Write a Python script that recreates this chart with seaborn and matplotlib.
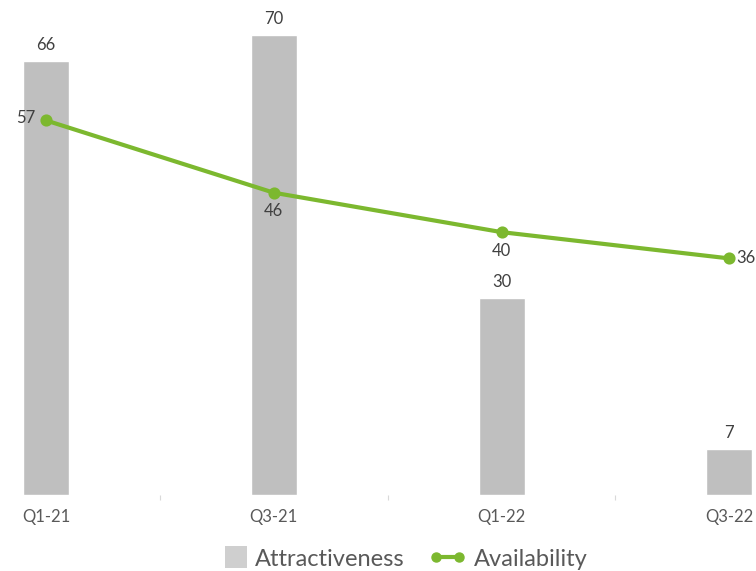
import matplotlib
matplotlib.use("Agg")
import matplotlib.pyplot as plt
import seaborn as sns
import pandas as pd
from matplotlib.patches import Rectangle
from matplotlib.lines import Line2D
from matplotlib.legend_handler import HandlerPatch

# Series values per survey wave
quarters = ["Q1-21", "Q3-21", "Q1-22", "Q3-22"]
attractiveness = [66, 70, 30, 7]
availability = [57, 46, 40, 36]

BAR_COLOR = "#BFBFBF"
LINE_COLOR = "#7CB82F"
LABEL_COLOR = "#404040"
AXIS_TEXT = "#595959"

sns.set_theme(style="white")
plt.rcParams["font.family"] = ["Lato", "DejaVu Sans"]

W, H = 756, 571
fig = plt.figure(figsize=(W / 100, H / 100), dpi=100)
ax = fig.add_axes([0, 76 / H, 1, 460 / H])

df = pd.DataFrame({
    "quarter": quarters,
    "Attractiveness": attractiveness,
    "Availability": availability,
})

sns.barplot(data=df, x="quarter", y="Attractiveness", color=BAR_COLOR,
            width=0.202, saturation=1, ax=ax)
sns.pointplot(data=df, x="quarter", y="Availability", color=LINE_COLOR,
              markers="o", linestyles="-", markersize=6.5, linewidth=3,
              errorbar=None, ax=ax)

ax.set_xlim(-0.202, 3.117)
ax.set_ylim(0, 70)

# value labels above the bars
for i, v in enumerate(attractiveness):
    ax.annotate(str(v), (i, v), xytext=(0, 11.5), textcoords="offset points",
                ha="center", va="center", fontsize=12, color=LABEL_COLOR,
                annotation_clip=False)

# value labels around the line points
line_offsets = [((-7.5, 1.5), "right"), ((0, -13.5), "center"),
                ((0, -13.5), "center"), ((5, 0), "left")]
for i, (v, (off, ha)) in enumerate(zip(availability, line_offsets)):
    ax.annotate(str(v), (i, v), xytext=off, textcoords="offset points",
                ha=ha, va="center", fontsize=12, color=LABEL_COLOR,
                annotation_clip=False)

ax.set_xlabel("")
ax.set_ylabel("")
ax.set_yticks([])
ax.set_xticks(range(len(quarters)))
ax.set_xticklabels(quarters, fontsize=12, color=AXIS_TEXT)
ax.tick_params(axis="x", which="major", length=0, pad=10)
ax.set_xticks([0.5, 1.5, 2.5], minor=True)
ax.tick_params(axis="x", which="minor", bottom=True, length=3.5, width=0.8,
               color="#D9D9D9", direction="out")
for s in ax.spines.values():
    s.set_visible(False)


def square_patch(legend, orig_handle, xdescent, ydescent, width, height, fontsize):
    s = 15.8
    return Rectangle((width - xdescent - s, -ydescent + (height - s) / 2), s, s)


handles = [
    Rectangle((0, 0), 1, 1, facecolor="#CFCFCF", edgecolor="none"),
    Line2D([], [], color=LINE_COLOR, marker="o", lw=3, ms=6.5),
]
fig.legend(handles, ["Attractiveness", "Availability"], loc="center",
           bbox_to_anchor=(399 / W, 12 / H), ncol=2, frameon=False,
           prop={"family": ["Lato", "DejaVu Sans"], "size": 17},
           labelcolor=AXIS_TEXT, numpoints=2, handlelength=1.55,
           handletextpad=0.33, columnspacing=1.05, borderpad=0,
           handler_map={Rectangle: HandlerPatch(patch_func=square_patch)})

fig.savefig("out.png", dpi=100)
